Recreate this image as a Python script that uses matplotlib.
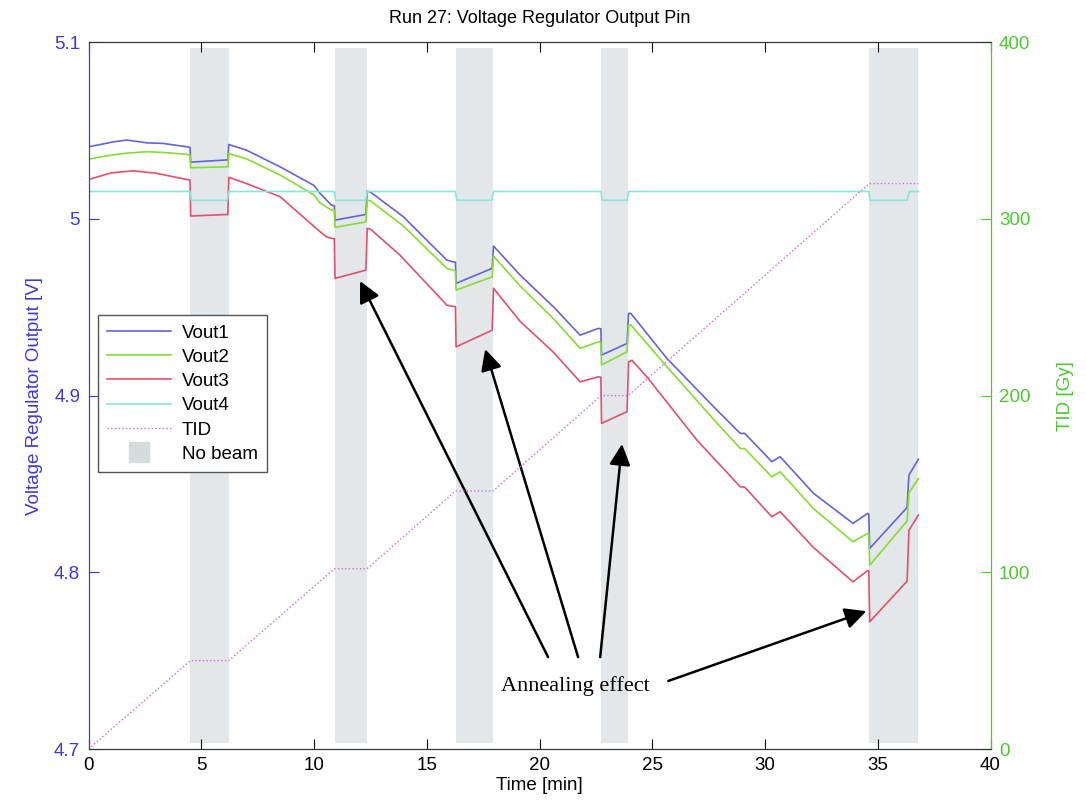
import numpy as np
import matplotlib
matplotlib.use('Agg')
import matplotlib.pyplot as plt
from matplotlib.lines import Line2D

plt.rcParams['font.family'] = ['Liberation Sans', 'DejaVu Sans']

# no-beam intervals [min]
nobeam_start = [4.52, 10.91, 16.28, 22.73, 34.62]
nobeam_end = [6.21, 12.35, 17.94, 23.93, 36.78]

# Vout1
t1 = [0, 0.5, 1.1, 1.7, 2.6, 3.3, 4.35, 4.50, 4.53, 6.18, 6.22, 7.0, 8.5, 10.0,
      10.27, 10.77, 10.9, 10.93, 12.3, 12.36, 12.5, 13.96, 15.89, 16.15, 16.27,
      16.3, 17.9, 17.96, 19.14, 20.62, 21.8, 22.6, 22.72, 22.75, 23.88, 23.95,
      24.05, 25.65, 27.72, 28.9, 29.1, 30.3, 30.67, 32.15, 33.9, 34.55, 34.6,
      34.64, 36.3, 36.38, 36.8]
v1 = [5.0408, 5.0420, 5.0436, 5.0446, 5.0430, 5.0427, 5.0408, 5.0405, 5.0321,
      5.0334, 5.0421, 5.0389, 5.0294, 5.0189, 5.0144, 5.0078, 5.0075, 4.9993,
      5.0025, 5.0157, 5.0152, 5.0012, 4.9767, 4.9757, 4.9755, 4.9635, 4.9720,
      4.9846, 4.9682, 4.9502, 4.9342, 4.9380, 4.9378, 4.9229, 4.9295, 4.9465,
      4.9465, 4.9210, 4.8937, 4.8786, 4.8786, 4.8626, 4.8654, 4.8447, 4.8277,
      4.8333, 4.8330, 4.8135, 4.8367, 4.8550, 4.8640]

# Vout2
t2 = t1
v2 = [5.0338, 5.0350, 5.0362, 5.0372, 5.0380, 5.0376, 5.0365, 5.0362, 5.0289,
      5.0295, 5.0370, 5.0340, 5.0248, 5.0135, 5.0090, 5.0050, 5.0048, 4.9952,
      4.9983, 5.0106, 5.0102, 4.9960, 4.9720, 4.9710, 4.9708, 4.9597, 4.9672,
      4.9789, 4.9620, 4.9435, 4.9267, 4.9304, 4.9302, 4.9173, 4.9248, 4.9399,
      4.9400, 4.9163, 4.8865, 4.8701, 4.8700, 4.8540, 4.8569, 4.8360, 4.8173,
      4.8220, 4.8218, 4.8040, 4.8290, 4.8450, 4.8530]

# Vout3
t3 = [0, 1.0, 1.98, 3.0, 4.35, 4.50, 4.53, 6.18, 6.22, 7.0, 8.5, 10.27, 10.56,
      10.77, 10.9, 10.93, 12.3, 12.36, 12.5, 13.81, 15.89, 16.15, 16.27, 16.3,
      17.9, 17.96, 19.14, 20.62, 21.8, 22.6, 22.72, 22.75, 23.88, 23.95, 24.1,
      24.76, 26.98, 28.9, 29.1, 30.3, 30.67, 32.15, 33.9, 34.55, 34.6, 34.64,
      36.3, 36.38, 36.8]
v3 = [5.0223, 5.0260, 5.0272, 5.0258, 5.0223, 5.0220, 5.0016, 5.0025, 5.0235,
      5.0200, 5.0125, 4.9927, 4.9898, 4.9890, 4.9888, 4.9663, 4.9710, 4.9946,
      4.9942, 4.9795, 4.9512, 4.9505, 4.9503, 4.9276, 4.9370, 4.9607, 4.9420,
      4.9245, 4.9078, 4.9106, 4.9104, 4.8843, 4.8909, 4.9191, 4.9200, 4.9106,
      4.8748, 4.8484, 4.8482, 4.8314, 4.8343, 4.8140, 4.7946, 4.8010, 4.8008,
      4.7720, 4.7950, 4.8237, 4.8324]

# Vout4
t4 = [0, 4.50, 4.56, 6.16, 6.22, 10.9, 10.96, 12.29, 12.36, 16.26, 16.34,
      17.88, 17.96, 22.72, 22.78, 23.88, 23.95, 34.6, 34.66, 36.3, 36.4, 36.8]
v4 = [5.0155, 5.0155, 5.0105, 5.0105, 5.0155, 5.0155, 5.0105, 5.0105, 5.0155,
      5.0155, 5.0105, 5.0105, 5.0155, 5.0155, 5.0105, 5.0105, 5.0155, 5.0155,
      5.0105, 5.0105, 5.0155, 5.0155]

# TID [Gy]
t_tid = [0, 4.52, 6.21, 10.91, 12.35, 16.28, 17.94, 22.73, 23.93, 34.62, 36.8]
tid = [0, 50, 50, 102, 102, 146, 146, 200, 200, 320, 320]

c_blue = '#6464d8'
c_green = '#84dc34'
c_red = '#e2506c'
c_cyan = '#86e8d8'
c_tid = '#d468e0'
c_span = '#e3e7e9'
c_left = '#3a3ad4'
c_right = '#4cc830'

fig = plt.figure(figsize=(10.86, 8.06), dpi=100)
ax = fig.add_axes([0.0815, 0.0707, 0.8306, 0.877])
ax2 = ax.twinx()

for s, e in zip(nobeam_start, nobeam_end):
    ax.axvspan(s, e, ymin=0.008, ymax=0.992, color=c_span, lw=0, zorder=0)

l1, = ax.plot(t1, v1, color=c_blue, lw=1.2, label='Vout1')
l2, = ax.plot(t2, v2, color=c_green, lw=1.2, label='Vout2')
l3, = ax.plot(t3, v3, color=c_red, lw=1.2, label='Vout3')
l4, = ax.plot(t4, v4, color=c_cyan, lw=1.2, label='Vout4')
l5, = ax2.plot(t_tid, tid, color=c_tid, lw=1.0, ls=':', label='TID')
nb = Line2D([], [], marker='s', ls='', ms=14, color='#d6dcde', label='No beam')

ax.set_xlim(0, 40)
ax.set_ylim(4.7, 5.1)
ax2.set_ylim(0, 400)
ax.set_xticks(np.arange(0, 41, 5))
ax.set_yticks([4.7, 4.8, 4.9, 5.0, 5.1])
ax.set_yticklabels(['4.7', '4.8', '4.9', '5', '5.1'])
ax2.set_yticks([0, 100, 200, 300, 400])

ax.tick_params(axis='x', direction='in', top=True, length=7, labelsize=13.5, pad=6)
ax.tick_params(axis='y', direction='in', length=7, labelsize=13.5, colors=c_left, pad=6)
ax2.tick_params(axis='y', direction='in', length=7, labelsize=13.5, colors=c_right, pad=6)

ax.spines['left'].set_color(c_left)
ax2.spines['left'].set_color(c_left)
ax2.spines['right'].set_color(c_right)
ax.spines['right'].set_color(c_right)
for a in (ax, ax2):
    a.spines['top'].set_color('#333333')
    a.spines['bottom'].set_color('#333333')

ax.set_title('Run 27: Voltage Regulator Output Pin', fontsize=13, pad=14)
ax.set_xlabel('Time [min]', fontsize=13.5, labelpad=2)
ax.set_ylabel('Voltage Regulator Output [V]', fontsize=13.5, color=c_left, labelpad=8)
ax2.set_ylabel('TID [Gy]', fontsize=13.5, color=c_right, labelpad=19)

arrow = dict(arrowstyle='-|>', color='black', lw=1.8, mutation_scale=32,
             shrinkA=0, shrinkB=0)
ax.annotate('', xy=(12.04, 4.9648), xytext=(20.38, 4.752), arrowprops=arrow)
ax.annotate('', xy=(17.59, 4.9263), xytext=(21.71, 4.752), arrowprops=arrow)
ax.annotate('', xy=(23.66, 4.8726), xytext=(22.69, 4.752), arrowprops=arrow)
ax.annotate('', xy=(34.49, 4.778), xytext=(25.71, 4.7385), arrowprops=arrow)
ax.text(21.58, 4.7356, 'Annealing effect', family=['Liberation Serif', 'DejaVu Serif'],
        fontsize=16, ha='center', va='center')

leg = ax2.legend(handles=[l1, l2, l3, l4, l5, nb], loc='upper left',
                 bbox_to_anchor=(0.01, 0.614), borderaxespad=0, fontsize=13.5,
                 frameon=True, fancybox=False, framealpha=1, edgecolor='#555555',
                 handlelength=3.4, labelspacing=0.38, borderpad=0.5,
                 handletextpad=0.6)
leg.get_frame().set_linewidth(1.0)

fig.savefig('out.png', dpi=100)
